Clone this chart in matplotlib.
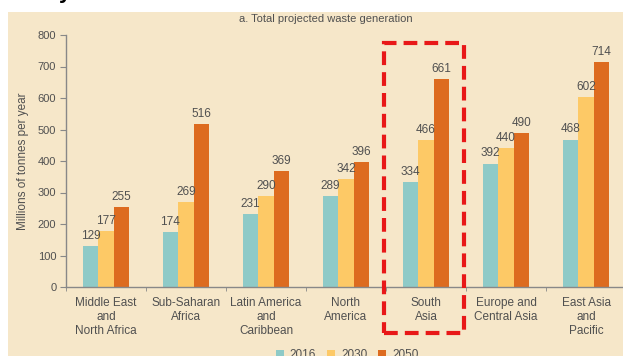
import matplotlib
matplotlib.use("Agg")
import matplotlib.pyplot as plt
from matplotlib.patches import Rectangle, Patch
import numpy as np

categories = ["Middle East\nand\nNorth Africa", "Sub-Saharan\nAfrica", "Latin America\nand\nCaribbean",
              "North\nAmerica", "South\nAsia", "Europe and\nCentral Asia", "East Asia\nand\nPacific"]
v2016 = [129, 174, 231, 289, 334, 392, 468]
v2030 = [177, 269, 290, 342, 466, 440, 602]
v2050 = [255, 516, 369, 396, 661, 490, 714]
series_names = ["2016", "2030", "2050"]
yticks = [0, 100, 200, 300, 400, 500, 600, 700, 800]
title = "a. Total projected waste generation"
ylabel = "Millions of tonnes per year"

plt.rcParams["font.family"] = ["Liberation Sans", "DejaVu Sans"]

colors = ["#8ECAC7", "#FDC966", "#DD6B1F"]
bg = "#F6E7C9"
txt = "#505050"
W, H = 623, 356

fig = plt.figure(figsize=(W / 100, H / 100), dpi=100)
fig.patch.set_facecolor("white")
fig.patches.append(Rectangle((8 / W, 0), 1, (H - 12) / H, transform=fig.transFigure,
                             facecolor=bg, edgecolor="none", zorder=-10))
fig.text(59 / W, (H + 2) / H, "y", fontsize=16, fontweight="bold", color="black",
         va="baseline", ha="left")
fig.text(326 / W, (H - 19) / H, title, fontsize=8, color=txt, ha="center", va="center")

ax = fig.add_axes([66 / W, 69 / H, 560 / W, 252 / H])
ax.set_zorder(1)
ax.set_facecolor("none")
x = np.arange(len(categories))
bw = 0.195
for i, (vals, c) in enumerate(zip([v2016, v2030, v2050], colors)):
    xs = x + (i - 1) * bw
    ax.bar(xs, vals, width=bw, color=c, edgecolor="none", zorder=2)
    for xi, v in zip(xs, vals):
        ax.text(xi, v + 13, str(v), ha="center", va="bottom", fontsize=8.5, color=txt)

ax.set_xlim(-0.5, len(categories) - 0.5)
ax.set_ylim(0, 800)
ax.set_yticks(yticks)
ax.set_yticklabels([str(t) for t in yticks], fontsize=8, color=txt)
ax.set_xticks(x)
ax.set_xticklabels(categories, fontsize=8.5, color=txt, linespacing=1.25)
ax.tick_params(axis="x", length=0, pad=7)
ax.set_xticks(np.arange(len(categories) + 1) - 0.5, minor=True)
ax.tick_params(axis="x", which="minor", length=3, color="#888888", direction="out")
ax.tick_params(axis="y", length=4, color="#888888", direction="out", pad=3)
for s in ["top", "right"]:
    ax.spines[s].set_visible(False)
for s in ["left", "bottom"]:
    ax.spines[s].set_color("#888888")
    ax.spines[s].set_linewidth(1.0)
ax.set_ylabel(ylabel, fontsize=8.5, color=txt, labelpad=6)

# Highlight box around South Asia
ax.add_patch(Rectangle((3.48, -145), 1.0, 920, fill=False, edgecolor="#E81818",
                       linewidth=3, linestyle=(0, (3.3, 1.7)), clip_on=False, zorder=5))

handles = [Patch(facecolor=c, edgecolor="none") for c in colors]
fig.legend(handles, series_names, loc="center", bbox_to_anchor=(347 / W, 1 / H), ncol=3,
           frameon=False, fontsize=8.5, handlelength=0.7, handleheight=0.7,
           columnspacing=0.9, handletextpad=0.5, labelcolor=txt)

fig.savefig("out.png", dpi=100)
